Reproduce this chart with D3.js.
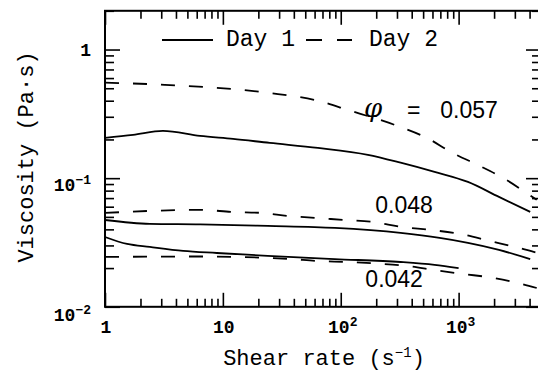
<!DOCTYPE html>
<html>
<head>
<meta charset="utf-8">
<script src="https://cdn.jsdelivr.net/npm/d3@7"></script>
<style>
  html, body { margin: 0; padding: 0; background: #fff; }
  svg { display: block; }
</style>
</head>
<body>
<svg id="chart" width="538" height="374"></svg>
<script>
// ---- data ----
const xMajorTicks = [1, 10, 100, 1000];
const xMajorLabels = [["1", ""], ["10", ""], ["10", "2"], ["10", "3"]];
const yMajorTicks = [1, 0.1, 0.01];
const yMajorLabels = [["1", ""], ["10", "\u22121"], ["10", "\u22122"]];

// phi = 0.057
const day1_057_x = [1, 1.73, 3.1, 6.4, 12.2, 25, 64, 170, 322, 625, 1200, 2200, 4050];
const day1_057_y = [0.206, 0.217, 0.233, 0.213, 0.202, 0.188, 0.172, 0.152, 0.132, 0.112, 0.0935, 0.0715, 0.0547];
const day2_057_x = [1, 3.2, 24, 64, 114, 316, 535, 890, 1500, 2400, 4000, 4600];
const day2_057_y = [0.552, 0.532, 0.461, 0.40, 0.34, 0.251, 0.206, 0.157, 0.125, 0.100, 0.074, 0.068];
// phi = 0.048
const day1_048_x = [1, 2.4, 6.4, 24, 89, 322, 690, 1200, 2200, 4050];
const day1_048_y = [0.0473, 0.0441, 0.0437, 0.0425, 0.0410, 0.0375, 0.0343, 0.0314, 0.0277, 0.0235];
const day2_048_x = [1, 6.4, 12.2, 21.4, 35.6, 60, 106, 186, 330, 580, 1020, 1830, 3300, 4600];
const day2_048_y = [0.0537, 0.0567, 0.0546, 0.0537, 0.0509, 0.0491, 0.0474, 0.0457, 0.0418, 0.0396, 0.0369, 0.0325, 0.0286, 0.0263];
// phi = 0.042
const day1_042_x = [1, 1.54, 2.4, 4.6, 8.9, 24, 89, 322, 625, 1000];
const day1_042_y = [0.0349, 0.0308, 0.0292, 0.0272, 0.0262, 0.0249, 0.0235, 0.0223, 0.0212, 0.0200];
const day2_042_x = [1, 6.4, 35.6, 64, 114, 198, 363, 625, 1090, 1950, 3400, 4600];
const day2_042_y = [0.0244, 0.0246, 0.0236, 0.0227, 0.0223, 0.0217, 0.0208, 0.0193, 0.0180, 0.0168, 0.0151, 0.0140];

const series = [
  { xs: day1_057_x, ys: day1_057_y, dashed: false },
  { xs: day2_057_x, ys: day2_057_y, dashed: true },
  { xs: day1_048_x, ys: day1_048_y, dashed: false },
  { xs: day2_048_x, ys: day2_048_y, dashed: true },
  { xs: day1_042_x, ys: day1_042_y, dashed: false },
  { xs: day2_042_x, ys: day2_042_y, dashed: true }
];

// label anchor = right end of text, on its baseline
const curveLabels = [
  { text: "0.057", x: 2150, y: 0.295 },
  { text: "0.048", x: 605, y: 0.0536 },
  { text: "0.042", x: 498, y: 0.0143 }
];

// ---- layout ----
const mLeft = 105, mRight = 541, mTop = 10.8, mBottom = 306.8;
const x = d3.scaleLog().domain([1, 5000]).range([mLeft, mRight]);
const y = d3.scaleLog().domain([0.01, 2]).range([mBottom, mTop]);

const svg = d3.select("#chart");
const mono = "'Liberation Mono', 'Courier New', monospace";
const sans = "'Liberation Sans', Arial, sans-serif";

// minor tick values
const xMinor = [];
for (let d = 1; d <= 1000; d *= 10) for (let k = 2; k <= 9; k++) if (d * k <= 5000) xMinor.push(d * k);
const yMinor = [];
[0.01, 0.1, 1].forEach(d => { for (let k = 2; k <= 9; k++) if (d * k <= 2.0001) yMinor.push(+(d * k).toPrecision(3)); });

function styleAxis(g) {
  g.select(".domain").remove();
  g.selectAll(".tick line").attr("stroke", "#000").attr("stroke-width", 1.6);
  g.selectAll(".tick text").remove();
}

// bottom & top ticks (inward)
svg.append("g").attr("transform", `translate(0,${mBottom})`)
  .call(d3.axisBottom(x).tickValues(xMinor).tickSize(-8).tickFormat("")).call(styleAxis);
svg.append("g").attr("transform", `translate(0,${mBottom})`)
  .call(d3.axisBottom(x).tickValues(xMajorTicks).tickSize(-14).tickFormat("")).call(styleAxis);
svg.append("g").attr("transform", `translate(0,${mTop})`)
  .call(d3.axisTop(x).tickValues(xMinor).tickSize(-8).tickFormat("")).call(styleAxis);
svg.append("g").attr("transform", `translate(0,${mTop})`)
  .call(d3.axisTop(x).tickValues(xMajorTicks).tickSize(-14).tickFormat("")).call(styleAxis);
// left & right ticks (inward)
svg.append("g").attr("transform", `translate(${mLeft},0)`)
  .call(d3.axisLeft(y).tickValues(yMinor).tickSize(-9).tickFormat("")).call(styleAxis);
svg.append("g").attr("transform", `translate(${mLeft},0)`)
  .call(d3.axisLeft(y).tickValues(yMajorTicks).tickSize(-15).tickFormat("")).call(styleAxis);
svg.append("g").attr("transform", `translate(${mRight},0)`)
  .call(d3.axisRight(y).tickValues(yMinor).tickSize(-9).tickFormat("")).call(styleAxis);
svg.append("g").attr("transform", `translate(${mRight},0)`)
  .call(d3.axisRight(y).tickValues(yMajorTicks).tickSize(-15).tickFormat("")).call(styleAxis);

// frame
svg.append("rect").attr("x", mLeft).attr("y", mTop)
  .attr("width", mRight - mLeft).attr("height", mBottom - mTop)
  .attr("fill", "none").attr("stroke", "#000").attr("stroke-width", 2);

// tick labels
function supLabel(sel, base, sup) {
  sel.append("tspan").text(base);
  if (sup) sel.append("tspan").attr("dy", -7).attr("font-size", 13).text(sup);
}
xMajorTicks.forEach((v, i) => {
  const t = svg.append("text").attr("x", x(v) + (xMajorLabels[i][1] ? 2 : 1)).attr("y", 333)
    .attr("text-anchor", "middle").attr("font-family", mono).attr("font-weight", "bold")
    .attr("font-size", 18);
  supLabel(t, xMajorLabels[i][0], xMajorLabels[i][1]);
});
const yLabelDy = [6, 13, 14];
yMajorTicks.forEach((v, i) => {
  const t = svg.append("text").attr("x", 91).attr("y", y(v) + yLabelDy[i])
    .attr("text-anchor", "end").attr("font-family", mono).attr("font-weight", "bold")
    .attr("font-size", 18);
  supLabel(t, yMajorLabels[i][0], yMajorLabels[i][1]);
});

// axis titles
const xt = svg.append("text").attr("x", 324).attr("y", 365).attr("text-anchor", "middle")
  .attr("font-family", mono).attr("font-size", 22);
xt.append("tspan").text("Shear rate (s");
xt.append("tspan").attr("dy", -8).attr("font-size", 14).text("\u22121");
xt.append("tspan").attr("dy", 8).text(")");

svg.append("text").attr("transform", "translate(33,157) rotate(-90)")
  .attr("text-anchor", "middle").attr("font-family", mono).attr("font-size", 22)
  .text("Viscosity (Pa\u00b7s)");

// curves
const line = d3.line().x(d => x(d[0])).y(d => y(d[1])).curve(d3.curveMonotoneX);
series.forEach(s => {
  svg.append("path")
    .attr("d", line(s.xs.map((v, i) => [v, s.ys[i]])))
    .attr("fill", "none").attr("stroke", "#000").attr("stroke-width", 1.8)
    .attr("stroke-dasharray", s.dashed ? "14,14" : null);
});

// curve labels
curveLabels.forEach(l => {
  svg.append("text").attr("x", x(l.x)).attr("y", y(l.y)).attr("text-anchor", "end")
    .attr("font-family", sans).attr("font-size", 23).text(l.text);
});
// phi and equals sign for the top label
svg.append("text").attr("x", 364).attr("y", 117).attr("font-family", "'DejaVu Serif', serif")
  .attr("font-style", "italic").attr("font-size", 26).text("\u03c6");
svg.append("text").attr("x", 407).attr("y", 118).attr("font-family", sans)
  .attr("font-size", 23).text("=");

// legend
svg.append("line").attr("x1", 162).attr("x2", 213).attr("y1", 40).attr("y2", 40)
  .attr("stroke", "#000").attr("stroke-width", 1.8);
svg.append("text").attr("x", 226).attr("y", 46).attr("font-family", mono).attr("font-size", 23).text("Day 1");
svg.append("line").attr("x1", 306).attr("x2", 352).attr("y1", 40).attr("y2", 40)
  .attr("stroke", "#000").attr("stroke-width", 1.8).attr("stroke-dasharray", "16,15");
svg.append("text").attr("x", 369).attr("y", 46).attr("font-family", mono).attr("font-size", 23).text("Day 2");
</script>
</body>
</html>
